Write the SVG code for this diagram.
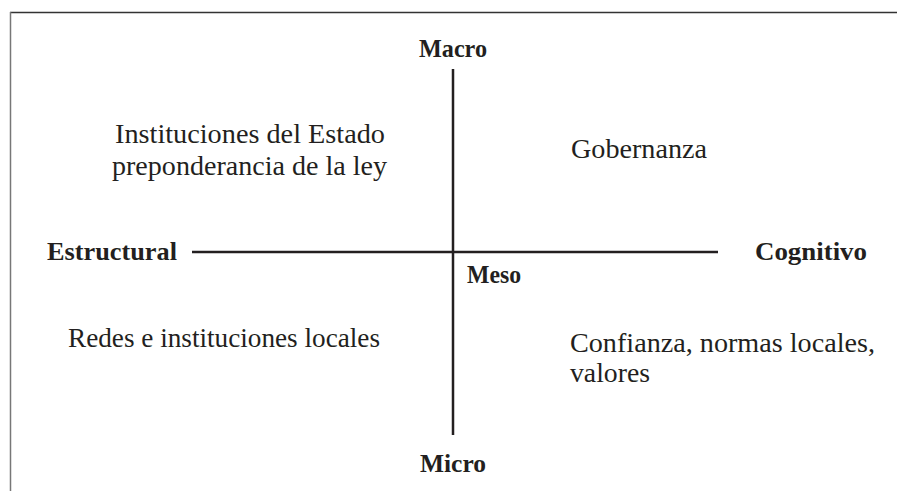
<svg xmlns="http://www.w3.org/2000/svg" width="897" height="491" viewBox="0 0 897 491">
<style>
.ax{font-family:"Liberation Serif","DejaVu Serif",serif;font-weight:bold;font-size:26px;fill:#231f20}
.q{font-family:"Liberation Serif","DejaVu Serif",serif;font-size:27px;fill:#231f20}
.axis{stroke:#231f20;stroke-width:2.5;fill:none}
</style>
<rect width="897" height="491" fill="#ffffff"/>
<g id="frame">
<line x1="10" y1="12.5" x2="897" y2="12.5" stroke="#333" stroke-width="1.5"/>
<line x1="10.5" y1="12" x2="10.5" y2="491" stroke="#777" stroke-width="1.5"/>
</g>
<g id="connectors">
<line class="axis" x1="453" y1="69" x2="453" y2="435"/>
<line class="axis" x1="192" y1="252" x2="718" y2="252"/>
</g>
<g id="macro"><text class="ax" x="419" y="57" textLength="68" lengthAdjust="spacingAndGlyphs">Macro</text></g>
<g id="micro"><text class="ax" x="420" y="472" textLength="66" lengthAdjust="spacingAndGlyphs">Micro</text></g>
<g id="estructural"><text class="ax" x="47" y="260" textLength="130" lengthAdjust="spacingAndGlyphs">Estructural</text></g>
<g id="cognitivo"><text class="ax" x="755" y="260" textLength="112" lengthAdjust="spacingAndGlyphs">Cognitivo</text></g>
<g id="meso"><text class="ax" x="467" y="283" textLength="54" lengthAdjust="spacingAndGlyphs">Meso</text></g>
<g id="instituciones">
<text class="q" x="115" y="143" textLength="270" lengthAdjust="spacingAndGlyphs">Instituciones del Estado</text>
<text class="q" x="112" y="175" textLength="275" lengthAdjust="spacingAndGlyphs">preponderancia de la ley</text>
</g>
<g id="gobernanza"><text class="q" x="571" y="158" textLength="136" lengthAdjust="spacingAndGlyphs">Gobernanza</text></g>
<g id="redes"><text class="q" x="68" y="347" textLength="312" lengthAdjust="spacingAndGlyphs">Redes e instituciones locales</text></g>
<g id="confianza">
<text class="q" x="570" y="352" textLength="305" lengthAdjust="spacingAndGlyphs">Confianza, normas locales,</text>
<text class="q" x="570" y="382" textLength="80" lengthAdjust="spacingAndGlyphs">valores</text>
</g>
</svg>
